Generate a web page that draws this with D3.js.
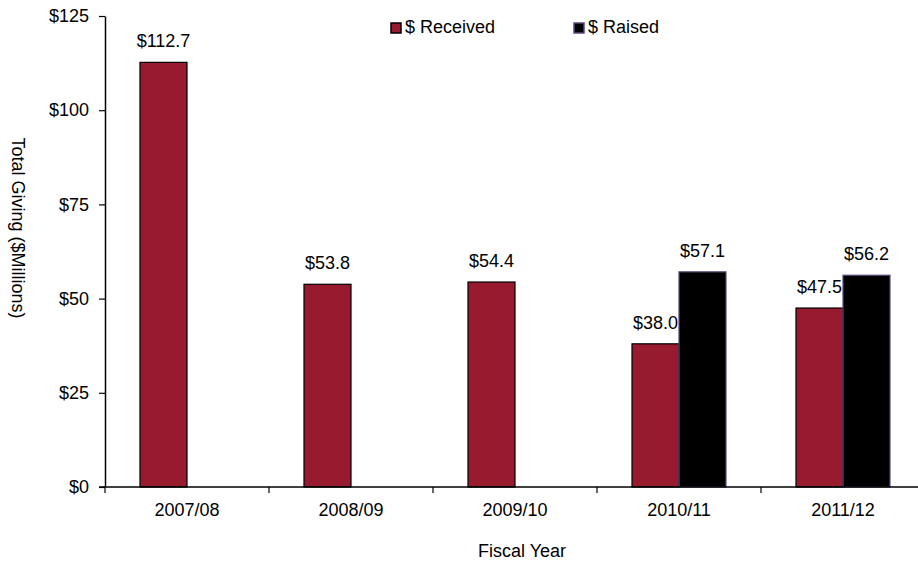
<!DOCTYPE html>
<html>
<head>
<meta charset="utf-8">
<script src="https://cdn.jsdelivr.net/npm/d3@7/dist/d3.min.js"></script>
<style>
  html, body { margin: 0; padding: 0; background: #fff; }
  svg { display: block; font-family: "Liberation Sans", Arial, sans-serif; }
</style>
</head>
<body>
<svg id="chart" width="918" height="563"></svg>
<script>
// Fiscal years and giving totals ($ millions)
const years = ["2007/08", "2008/09", "2009/10", "2010/11", "2011/12"];
const received = [112.7, 53.8, 54.4, 38.0, 47.5];
const raised = [null, null, null, 57.1, 56.2];
const seriesNames = ["$ Received", "$ Raised"];
const yTicks = [0, 25, 50, 75, 100, 125];

const fills = ["#971a2f", "#000000"];
const strokes = ["#000000", "#5a4878"];

const svg = d3.select("#chart");
const plotLeft = 105, plotRight = 925, plotTop = 16, plotBottom = 487;
const fontSize = 18;

const x = d3.scaleBand().domain(years).range([plotLeft, plotRight]).paddingInner(0).paddingOuter(0);
const xs = d3.scaleBand().domain([0, 1]).range([0, 94]);
const y = d3.scaleLinear().domain([0, 125]).range([plotBottom, plotTop]);

const series = [received, raised];

// bars and value labels
series.forEach((vals, si) => {
  const data = years.map((yr, i) => ({ yr, v: vals[i] })).filter(d => d.v != null);
  svg.append("g").selectAll("rect").data(data).join("rect")
    .attr("x", d => x(d.yr) + x.bandwidth() / 2 - 47 + xs(si))
    .attr("y", d => y(d.v))
    .attr("width", xs.bandwidth())
    .attr("height", d => y(0) - y(d.v))
    .attr("fill", fills[si])
    .attr("stroke", strokes[si])
    .attr("stroke-width", 1.2);
  svg.append("g").selectAll("text").data(data).join("text")
    .attr("x", d => x(d.yr) + x.bandwidth() / 2 - 47 + xs(si) + xs.bandwidth() / 2)
    .attr("y", d => y(d.v) - 15)
    .attr("text-anchor", "middle")
    .attr("font-size", fontSize)
    .attr("fill", "#000")
    .text(d => "$" + d.v.toFixed(1));
});

// y axis
const yAxis = svg.append("g").attr("transform", `translate(${plotLeft},0)`)
  .call(d3.axisLeft(y).tickValues(yTicks).tickSize(6).tickSizeOuter(0).tickFormat(d => "$" + d));
yAxis.select(".domain").attr("stroke", "#000").attr("stroke-width", 1.5);
yAxis.selectAll(".tick line").attr("stroke", "#000").attr("stroke-width", 1.2);
yAxis.selectAll(".tick text").attr("font-size", fontSize).attr("font-family", "Liberation Sans, Arial, sans-serif")
  .attr("fill", "#000").attr("x", -16);

// x axis with boundary ticks between categories
const xAxis = svg.append("g").attr("transform", `translate(0,${plotBottom})`);
xAxis.append("line").attr("x1", plotLeft - 6).attr("x2", 918).attr("y1", 0).attr("y2", 0)
  .attr("stroke", "#000").attr("stroke-width", 1.5);
xAxis.selectAll("line.tk").data(years).join("line").attr("class", "tk")
  .attr("x1", d => x(d)).attr("x2", d => x(d)).attr("y1", 0).attr("y2", 6)
  .attr("stroke", "#000").attr("stroke-width", 1.2);
xAxis.selectAll("text").data(years).join("text")
  .attr("x", d => x(d) + x.bandwidth() / 2)
  .attr("y", 29)
  .attr("text-anchor", "middle")
  .attr("font-size", fontSize)
  .attr("fill", "#000")
  .text(d => d);

// axis titles
svg.append("text")
  .attr("transform", `translate(12,228) rotate(90)`)
  .attr("text-anchor", "middle")
  .attr("font-size", fontSize)
  .text("Total Giving ($Millions)");
svg.append("text")
  .attr("x", 522).attr("y", 557)
  .attr("text-anchor", "middle")
  .attr("font-size", fontSize)
  .text("Fiscal Year");

// legend
const legendX = [391, 574];
const leg = svg.append("g").selectAll("g").data(seriesNames).join("g")
  .attr("transform", (d, i) => `translate(${legendX[i]},23)`);
leg.append("rect").attr("width", 10).attr("height", 10)
  .attr("fill", (d, i) => fills[i]).attr("stroke", (d, i) => strokes[i]).attr("stroke-width", 1.5);
leg.append("text").attr("x", 14).attr("y", 10).attr("font-size", fontSize).text(d => d);
</script>
</body>
</html>
